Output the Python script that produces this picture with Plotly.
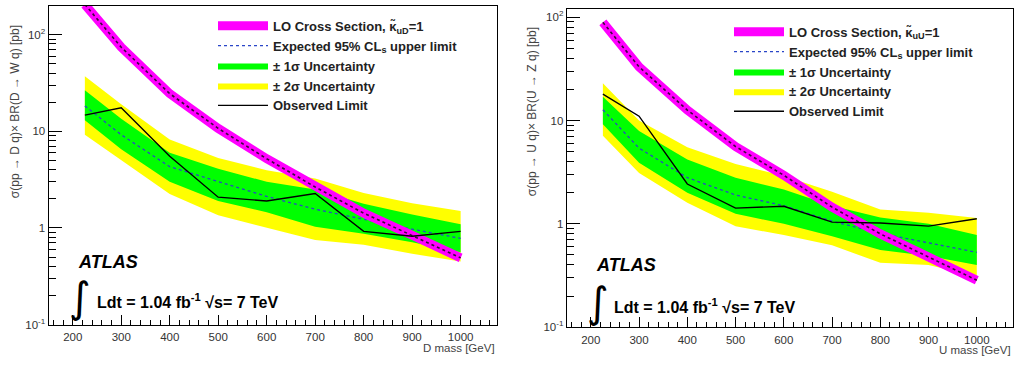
import plotly.graph_objects as go

# ---------------- data ----------------
mass = [225, 300, 400, 500, 600, 700, 800, 900, 1000]

# Left panel: D -> W q
d_lo_xsec = [205, 74, 24.5, 10.7, 5.2, 2.65, 1.42, 0.84, 0.49]
d_expected = [18.3, 9.2, 4.3, 3.0, 2.12, 1.56, 1.22, 0.97, 0.78]
d_observed = [14.7, 17.5, 5.5, 2.08, 1.9, 2.27, 0.92, 0.82, 0.92]
d_1s_hi = [26.5, 13.5, 6.0, 4.1, 3.0, 2.5, 1.78, 1.38, 1.09]
d_1s_lo = [13.0, 6.5, 3.0, 1.9, 1.45, 1.03, 0.87, 0.71, 0.56]
d_2s_hi = [37, 19, 8.2, 5.3, 3.95, 3.25, 2.3, 1.8, 1.5]
d_2s_lo = [9.2, 5.0, 2.25, 1.35, 1.0, 0.75, 0.67, 0.54, 0.45]

# Right panel: U -> Z q
u_lo_xsec = [89, 33, 12.6, 5.6, 2.95, 1.45, 0.80, 0.48, 0.285]
u_expected = [12.7, 5.4, 2.8, 1.9, 1.5, 1.06, 0.81, 0.66, 0.53]
u_observed = [18, 11, 2.43, 1.42, 1.48, 1.04, 1.02, 0.95, 1.12]
u_1s_hi = [17, 7.9, 4.2, 2.8, 2.15, 1.5, 1.15, 1.0, 0.78]
u_1s_lo = [9.2, 3.9, 2.0, 1.25, 1.0, 0.76, 0.56, 0.49, 0.40]
u_2s_hi = [22.9, 10, 5.5, 3.8, 2.9, 2.05, 1.38, 1.28, 1.14]
u_2s_lo = [7.1, 3.1, 1.6, 0.95, 0.78, 0.62, 0.42, 0.40, 0.31]

x_tick_vals = [200, 300, 400, 500, 600, 700, 800, 900, 1000]
y_tick_vals = [0.1, 1, 10, 100]
y_tick_text = ["10<sup>-1</sup>", "1", "10", "10<sup>2</sup>"]

# ---------------- styling ----------------
FONT = "Liberation Sans, Arial, Helvetica, sans-serif"
GREEN = "#00ff00"
YELLOW = "#ffff00"
MAGENTA = "#ff00ff"
EXP_BLUE = "#2a46c8"

fig = go.Figure()


def add_panel(xa, ya, leg, lo, ex, ob, s1h, s1l, s2h, s2l, kappa):
    # 2 sigma band
    fig.add_trace(go.Scatter(x=mass, y=s2l, mode="lines", line=dict(width=0, color=YELLOW),
                             showlegend=False, hoverinfo="skip", xaxis=xa, yaxis=ya))
    fig.add_trace(go.Scatter(x=mass, y=s2h, mode="lines", line=dict(width=0, color=YELLOW),
                             fill="tonexty", fillcolor=YELLOW,
                             name="<b>± 2σ Uncertainty</b>", legend=leg, legendrank=4,
                             xaxis=xa, yaxis=ya))
    # 1 sigma band
    fig.add_trace(go.Scatter(x=mass, y=s1l, mode="lines", line=dict(width=0, color=GREEN),
                             showlegend=False, hoverinfo="skip", xaxis=xa, yaxis=ya))
    fig.add_trace(go.Scatter(x=mass, y=s1h, mode="lines", line=dict(width=0, color=GREEN),
                             fill="tonexty", fillcolor=GREEN,
                             name="<b>± 1σ Uncertainty</b>", legend=leg, legendrank=3,
                             xaxis=xa, yaxis=ya))
    # expected
    fig.add_trace(go.Scatter(x=mass, y=ex, mode="lines",
                             line=dict(width=1.3, color=EXP_BLUE, dash="3px,3px"),
                             name="<b>Expected 95% CL<sub>s</sub> upper limit</b>",
                             legend=leg, legendrank=2, xaxis=xa, yaxis=ya))
    # LO cross section (thick magenta + dashed centre)
    fig.add_trace(go.Scatter(x=mass, y=lo, mode="lines", line=dict(width=9, color=MAGENTA),
                             name="<b>LO Cross Section, κ̃<sub>%s</sub>=1</b>" % kappa,
                             legend=leg, legendrank=1, xaxis=xa, yaxis=ya))
    fig.add_trace(go.Scatter(x=mass, y=lo, mode="lines",
                             line=dict(width=1.6, color="#3a0a3a", dash="3px,3px"),
                             showlegend=False, hoverinfo="skip", xaxis=xa, yaxis=ya))
    # observed
    fig.add_trace(go.Scatter(x=mass, y=ob, mode="lines", line=dict(width=1.4, color="black"),
                             name="<b>Observed Limit</b>", legend=leg, legendrank=5,
                             xaxis=xa, yaxis=ya))


add_panel("x", "y", "legend", d_lo_xsec, d_expected, d_observed,
          d_1s_hi, d_1s_lo, d_2s_hi, d_2s_lo, "uD")
add_panel("x2", "y2", "legend2", u_lo_xsec, u_expected, u_observed,
          u_1s_hi, u_1s_lo, u_2s_hi, u_2s_lo, "uU")

minor_y = [m * 10 ** e for e in (-1, 0, 1) for m in range(2, 10)] + [200]

xaxis_common = dict(
    range=[150, 1075], tickmode="array", tickvals=x_tick_vals,
    ticks="inside", ticklen=10, tickwidth=1, tickcolor="black",
    minor=dict(ticks="inside", ticklen=5, tickwidth=1, tickcolor="black", dtick=20, tick0=0),
    showline=True, linecolor="black", linewidth=1, mirror=True,
    showgrid=False, zeroline=False, ticklabelstandoff=2,
    tickfont=dict(family=FONT, size=11.5, color="#333"),
)
yaxis_common = dict(
    type="log", tickmode="array", tickvals=y_tick_vals, ticktext=y_tick_text,
    ticks="inside", ticklen=13, tickwidth=1, tickcolor="black",
    minor=dict(ticks="inside", ticklen=7, tickwidth=1, tickcolor="black",
               tickmode="array", tickvals=minor_y),
    showline=True, linecolor="black", linewidth=1, mirror=True,
    showgrid=False, zeroline=False,
    tickfont=dict(family=FONT, size=11.5, color="#333"),
)

W, H = 1017, 365

fig.update_layout(
    width=W, height=H,
    margin=dict(l=0, r=0, t=0, b=0),
    paper_bgcolor="white", plot_bgcolor="white",
    font=dict(family=FONT, color="#222"),
    xaxis=dict(domain=[48.5 / W, 497 / W], anchor="y", **xaxis_common),
    yaxis=dict(domain=[1 - 330 / H, 1 - 5.7 / H], anchor="x", range=[-1, 2.30], **yaxis_common),
    xaxis2=dict(domain=[566.7 / W, 1013 / W], anchor="y2", **xaxis_common),
    yaxis2=dict(domain=[1 - 332.7 / H, 1 - 9 / H], anchor="x2", range=[-1, 2.08], **yaxis_common),
    legend=dict(x=213 / W, y=1 - 11 / H, xanchor="left", yanchor="top",
                bgcolor="rgba(0,0,0,0)", borderwidth=0, itemwidth=50,
                font=dict(family=FONT, size=13, color="#222"), traceorder="normal"),
    legend2=dict(x=729 / W, y=1 - 17 / H, xanchor="left", yanchor="top",
                 bgcolor="rgba(0,0,0,0)", borderwidth=0, itemwidth=50,
                 font=dict(family=FONT, size=13, color="#222"), traceorder="normal"),
    showlegend=True,
)

ann = []
# y-axis titles
ann.append(dict(text="σ(pp → D q)× BR(D → W q) [pb]", x=15 / W, y=1 - 114 / H,
                xref="paper", yref="paper", textangle=-90, showarrow=False,
                xanchor="center", yanchor="middle",
                font=dict(family=FONT, size=12, color="#444")))
ann.append(dict(text="σ(pp → U q)× BR(U → Z q) [pb]", x=532 / W, y=1 - 114 / H,
                xref="paper", yref="paper", textangle=-90, showarrow=False,
                xanchor="center", yanchor="middle",
                font=dict(family=FONT, size=12, color="#444")))
# x-axis titles
ann.append(dict(text="D mass [GeV]", x=497 / W, y=1 - 354 / H, xref="paper", yref="paper",
                xanchor="right", yanchor="middle", showarrow=False,
                font=dict(family=FONT, size=11.5, color="#444")))
ann.append(dict(text="U mass [GeV]", x=1013 / W, y=1 - 356 / H, xref="paper", yref="paper",
                xanchor="right", yanchor="middle", showarrow=False,
                font=dict(family=FONT, size=11.5, color="#444")))

# ATLAS labels
for (ax, ay, ix, iy, lx, ly) in [(76, 266, 80, 302, 95, 306), (594, 269, 598, 308, 612, 311)]:
    ann.append(dict(text="<b><i>ATLAS</i></b>", x=ax / W, y=1 - ay / H, xref="paper", yref="paper",
                    xanchor="left", yanchor="middle", showarrow=False,
                    font=dict(family=FONT, size=18, color="black")))
    ann.append(dict(text="∫", x=ix / W, y=1 - iy / H, xref="paper", yref="paper",
                    xanchor="center", yanchor="middle", showarrow=False,
                    font=dict(family="DejaVu Sans", size=42, color="black")))
    ann.append(dict(text="<b>Ldt = 1.04 fb<sup>-1</sup> √s= 7 TeV</b>", x=lx / W, y=1 - ly / H,
                    xref="paper", yref="paper", xanchor="left", yanchor="middle", showarrow=False,
                    font=dict(family=FONT, size=16, color="black")))

fig.update_layout(annotations=ann)

fig.write_html("out.html", config={"displayModeBar": False},
               post_script="document.body.style.margin='0';")
